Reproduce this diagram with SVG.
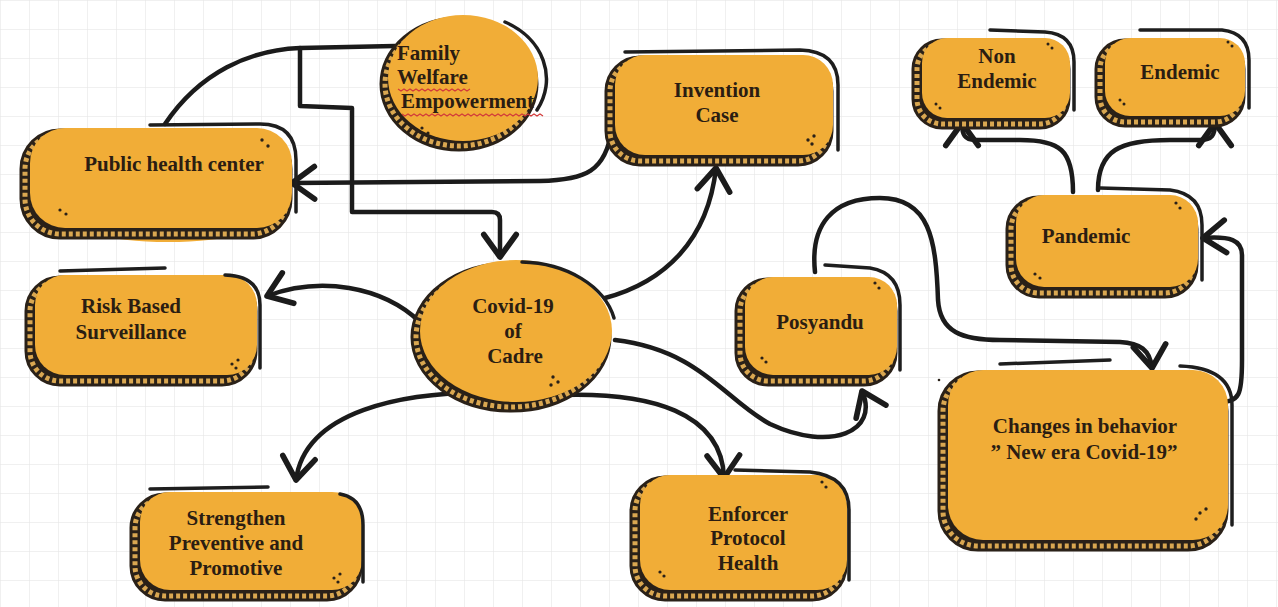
<svg xmlns="http://www.w3.org/2000/svg" width="1278" height="607" viewBox="0 0 1278 607">
<defs>
<pattern id="grid" width="29" height="29" patternUnits="userSpaceOnUse"><path d="M29 0 L0 0 0 29" fill="none" stroke="#e2e2e2" stroke-width="1"/></pattern>
<marker id="arr" markerUnits="userSpaceOnUse" markerWidth="40" markerHeight="40" viewBox="-22 -16 26 32" refX="0" refY="0" orient="auto"><path d="M-18 -13 L0 0 L-18 13" fill="none" stroke="#1b1b1b" stroke-width="4.5" stroke-linecap="round" stroke-linejoin="round"/></marker>
<style>
.band{fill:#2a2118;stroke:#2a2118;stroke-width:11}
.strip{fill:none;stroke:#d9a751;stroke-width:5;stroke-dasharray:4 3}
.main{fill:#f1ad37}
.sk{fill:none;stroke:#1e1e1e;stroke-width:3.5;stroke-linecap:round}
.dot{fill:#2a2118}
.t{font-family:"Liberation Serif","Times New Roman",serif;font-weight:bold;font-size:21px;fill:#2b1d12;text-anchor:middle}
.tl{text-anchor:start}
.c{fill:none;stroke:#1b1b1b;stroke-width:4.5;stroke-linecap:round;stroke-linejoin:round}
.ca{marker-end:url(#arr)}
.wavy{fill:none;stroke:#d23a3a;stroke-width:1.2}
</style>
</defs>
<rect width="1278" height="607" fill="#ffffff"/>
<rect width="1278" height="607" fill="url(#grid)"/>

<g id="connectors">
<path class="c" d="M165 124 C200 72 250 50 300 48 L395 46"/>
<path class="c ca" d="M300 48 L300 106 L352 108 L352 212 L492 212 Q500 212 500 220 L500 257"/>
<path class="c ca" d="M612 128 C606 172 585 180 540 181 L292 183"/>
<path class="c ca" d="M605 298 C665 282 708 240 716 168"/>
<path class="c ca" d="M420 322 C382 286 320 276 267 296"/>
<path class="c ca" d="M500 393 C400 390 305 412 296 480"/>
<path class="c ca" d="M560 395 C650 392 722 412 724 478"/>
<path class="c ca" d="M615 340 C700 350 725 400 770 424 C830 452 880 432 862 391"/>
<path class="c ca" d="M815 272 C810 225 832 198 880 198 C930 198 936 240 938 300 C940 332 962 340 1000 340 L1120 342 C1140 343 1150 350 1152 368"/>
<path class="c ca" d="M1218 402 C1240 402 1242 395 1242 360 L1242 255 C1242 240 1230 236 1203 238"/>
<path class="c ca" d="M1073 192 C1073 150 1060 140 1020 140 L975 140 C965 140 962 135 962 123"/>
<path class="c ca" d="M1098 190 C1098 150 1120 140 1170 140 L1200 140 C1212 140 1215 135 1215 123"/>
</g>

<g id="family">
<ellipse class="band" cx="459" cy="84" rx="74" ry="62"/>
<ellipse class="strip" cx="459" cy="84" rx="74" ry="62"/>
<ellipse class="main" cx="463" cy="78" rx="75" ry="63"/>
<path class="sk" d="M505 22 A76 64 0 0 1 537 110"/>
<circle class="dot" cx="422" cy="128" r="1.6"/><circle class="dot" cx="428" cy="133" r="1.6"/>
<text class="t tl" x="397" y="60">Family</text>
<text class="t tl" x="397" y="84">Welfare</text>
<text class="t tl" x="401" y="108">Empowerment</text>
<path class="wavy" d="M398 89 l3 2 l3 -2 l3 2 l3 -2 l3 2 l3 -2 l3 2 l3 -2 l3 2 l3 -2 l3 2 l3 -2 l3 2 l3 -2 l3 2 l3 -2 l3 2 l3 -2 l3 2 l3 -2 l3 2 l3 -2 l3 2 l3 -2"/>
<path class="wavy" d="M402 114 l3 2 l3 -2 l3 2 l3 -2 l3 2 l3 -2 l3 2 l3 -2 l3 2 l3 -2 l3 2 l3 -2 l3 2 l3 -2 l3 2 l3 -2 l3 2 l3 -2 l3 2 l3 -2 l3 2 l3 -2 l3 2 l3 -2 l3 2 l3 -2 l3 2 l3 -2 l3 2 l3 -2 l3 2 l3 -2 l3 2 l3 -2 l3 2 l3 -2 l3 2 l3 -2 l3 2 l3 -2 l3 2 l3 -2 l3 2 l3 -2 l3 2 l3 -2 l3 2"/>
</g>

<g id="public-health">
<ellipse class="main" cx="168" cy="212" rx="112" ry="30"/>
<rect class="band" x="25" y="134" width="262" height="100" rx="35"/>
<rect class="strip" x="25" y="134" width="262" height="100" rx="35"/>
<rect class="main" x="30" y="128" width="262" height="100" rx="35"/>
<path class="sk" d="M150 125 L260 124 Q296 124 296 160 L296 212"/>
<circle class="dot" cx="262" cy="140" r="1.7"/><circle class="dot" cx="268" cy="146" r="1.7"/><circle class="dot" cx="60" cy="210" r="1.6"/><circle class="dot" cx="66" cy="214" r="1.6"/>
<text class="t" x="174" y="171">Public health center</text>
</g>

<g id="invention">
<rect class="band" x="610" y="61" width="218" height="100" rx="30"/>
<rect class="strip" x="610" y="61" width="218" height="100" rx="30"/>
<rect class="main" x="615" y="55" width="218" height="100" rx="30"/>
<path class="sk" d="M625 52 L800 50 Q838 51 838 85 L838 150"/>
<circle class="dot" cx="808" cy="140" r="1.7"/><circle class="dot" cx="814" cy="136" r="1.7"/><circle class="dot" cx="812" cy="144" r="1.7"/>
<text class="t" x="717" y="97">Invention</text>
<text class="t" x="717" y="122">Case</text>
</g>

<g id="non-endemic">
<rect class="band" x="917" y="44" width="148" height="80" rx="25"/>
<rect class="strip" x="917" y="44" width="148" height="80" rx="25"/>
<rect class="main" x="922" y="38" width="148" height="80" rx="25"/>
<path class="sk" d="M990 30 L1045 32 Q1074 34 1074 62 L1074 110"/>
<circle class="dot" cx="1048" cy="44" r="1.5"/><circle class="dot" cx="1052" cy="48" r="1.5"/><circle class="dot" cx="936" cy="104" r="1.5"/><circle class="dot" cx="940" cy="108" r="1.5"/>
<text class="t" x="997" y="63">Non</text>
<text class="t" x="997" y="88">Endemic</text>
</g>

<g id="endemic">
<rect class="band" x="1100" y="44" width="140" height="78" rx="25"/>
<rect class="strip" x="1100" y="44" width="140" height="78" rx="25"/>
<rect class="main" x="1105" y="38" width="140" height="78" rx="25"/>
<path class="sk" d="M1140 30 L1222 30 Q1249 33 1249 60 L1249 108"/>
<circle class="dot" cx="1228" cy="42" r="1.5"/><circle class="dot" cx="1232" cy="46" r="1.5"/><circle class="dot" cx="1120" cy="100" r="1.5"/><circle class="dot" cx="1124" cy="104" r="1.5"/>
<text class="t" x="1180" y="79">Endemic</text>
</g>

<g id="pandemic">
<rect class="band" x="1011" y="201" width="182" height="92" rx="28"/>
<rect class="strip" x="1011" y="201" width="182" height="92" rx="28"/>
<rect class="main" x="1016" y="195" width="182" height="92" rx="28"/>
<path class="sk" d="M1100 188 L1170 190 Q1202 194 1202 225 L1202 280"/>
<circle class="dot" cx="1176" cy="203" r="1.6"/><circle class="dot" cx="1180" cy="208" r="1.6"/><circle class="dot" cx="1035" cy="274" r="1.6"/><circle class="dot" cx="1040" cy="278" r="1.6"/>
<text class="t" x="1086" y="243">Pandemic</text>
</g>

<g id="risk">
<rect class="band" x="30" y="281" width="222" height="100" rx="30"/>
<rect class="strip" x="30" y="281" width="222" height="100" rx="30"/>
<rect class="main" x="35" y="275" width="222" height="100" rx="30"/>
<path class="sk" d="M60 271 L165 268 M225 275 Q260 276 260 305 L260 368"/>
<circle class="dot" cx="232" cy="364" r="1.6"/><circle class="dot" cx="238" cy="360" r="1.6"/><circle class="dot" cx="236" cy="368" r="1.6"/>
<text class="t" x="131" y="313">Risk Based</text>
<text class="t" x="131" y="339">Surveillance</text>
</g>

<g id="covid">
<ellipse class="band" cx="511" cy="337" rx="95" ry="70"/>
<ellipse class="strip" cx="511" cy="337" rx="95" ry="70"/>
<ellipse class="main" cx="516" cy="331" rx="96" ry="71"/>
<path class="sk" d="M522 262 A97 71 0 0 1 614 318"/>
<circle class="dot" cx="553" cy="377" r="1.7"/><circle class="dot" cx="551" cy="385" r="1.7"/><circle class="dot" cx="558" cy="382" r="1.7"/>
<text class="t" x="513" y="313">Covid-19</text>
<text class="t" x="513" y="338">of</text>
<text class="t" x="515" y="363">Cadre</text>
</g>

<g id="posyandu">
<rect class="band" x="740" y="283" width="152" height="98" rx="28"/>
<rect class="strip" x="740" y="283" width="152" height="98" rx="28"/>
<rect class="main" x="745" y="277" width="152" height="98" rx="28"/>
<path class="sk" d="M825 265 L870 268 Q900 273 900 305 L900 370"/>
<circle class="dot" cx="875" cy="283" r="1.6"/><circle class="dot" cx="879" cy="288" r="1.6"/><circle class="dot" cx="762" cy="358" r="1.6"/><circle class="dot" cx="766" cy="362" r="1.6"/>
<text class="t" x="820" y="329">Posyandu</text>
</g>

<g id="changes">
<rect class="band" x="943" y="376" width="280" height="170" rx="35"/>
<rect class="strip" x="943" y="376" width="280" height="170" rx="35"/>
<rect class="main" x="948" y="370" width="280" height="170" rx="35"/>
<path class="sk" d="M1000 364 L1110 360 M1180 366 Q1232 368 1232 405 L1232 525"/>
<circle class="dot" cx="1196" cy="519" r="1.7"/><circle class="dot" cx="1200" cy="513" r="1.7"/><circle class="dot" cx="1206" cy="509" r="1.7"/><circle class="dot" cx="939" cy="380" r="1.3"/>
<text class="t" x="1085" y="433">Changes in behavior</text>
<text class="t" x="1084" y="459">” New era Covid-19”</text>
</g>

<g id="strengthen">
<rect class="band" x="135" y="498" width="222" height="98" rx="30"/>
<rect class="strip" x="135" y="498" width="222" height="98" rx="30"/>
<rect class="main" x="140" y="492" width="222" height="98" rx="30"/>
<path class="sk" d="M150 489 L268 487 M340 494 Q363 498 363 525 L363 582"/>
<circle class="dot" cx="334" cy="578" r="1.6"/><circle class="dot" cx="340" cy="574" r="1.6"/><circle class="dot" cx="338" cy="582" r="1.6"/>
<text class="t" x="236" y="525">Strengthen</text>
<text class="t" x="236" y="550">Preventive and</text>
<text class="t" x="236" y="575">Promotive</text>
</g>

<g id="enforcer">
<rect class="band" x="635" y="481" width="207" height="115" rx="30"/>
<rect class="strip" x="635" y="481" width="207" height="115" rx="30"/>
<rect class="main" x="640" y="475" width="207" height="115" rx="30"/>
<path class="sk" d="M735 470 L810 472 Q849 476 849 510 L849 580"/>
<circle class="dot" cx="822" cy="482" r="1.6"/><circle class="dot" cx="826" cy="487" r="1.6"/><circle class="dot" cx="660" cy="572" r="1.6"/><circle class="dot" cx="664" cy="576" r="1.6"/>
<text class="t" x="748" y="521">Enforcer</text>
<text class="t" x="748" y="545">Protocol</text>
<text class="t" x="748" y="570">Health</text>
</g>
</svg>
